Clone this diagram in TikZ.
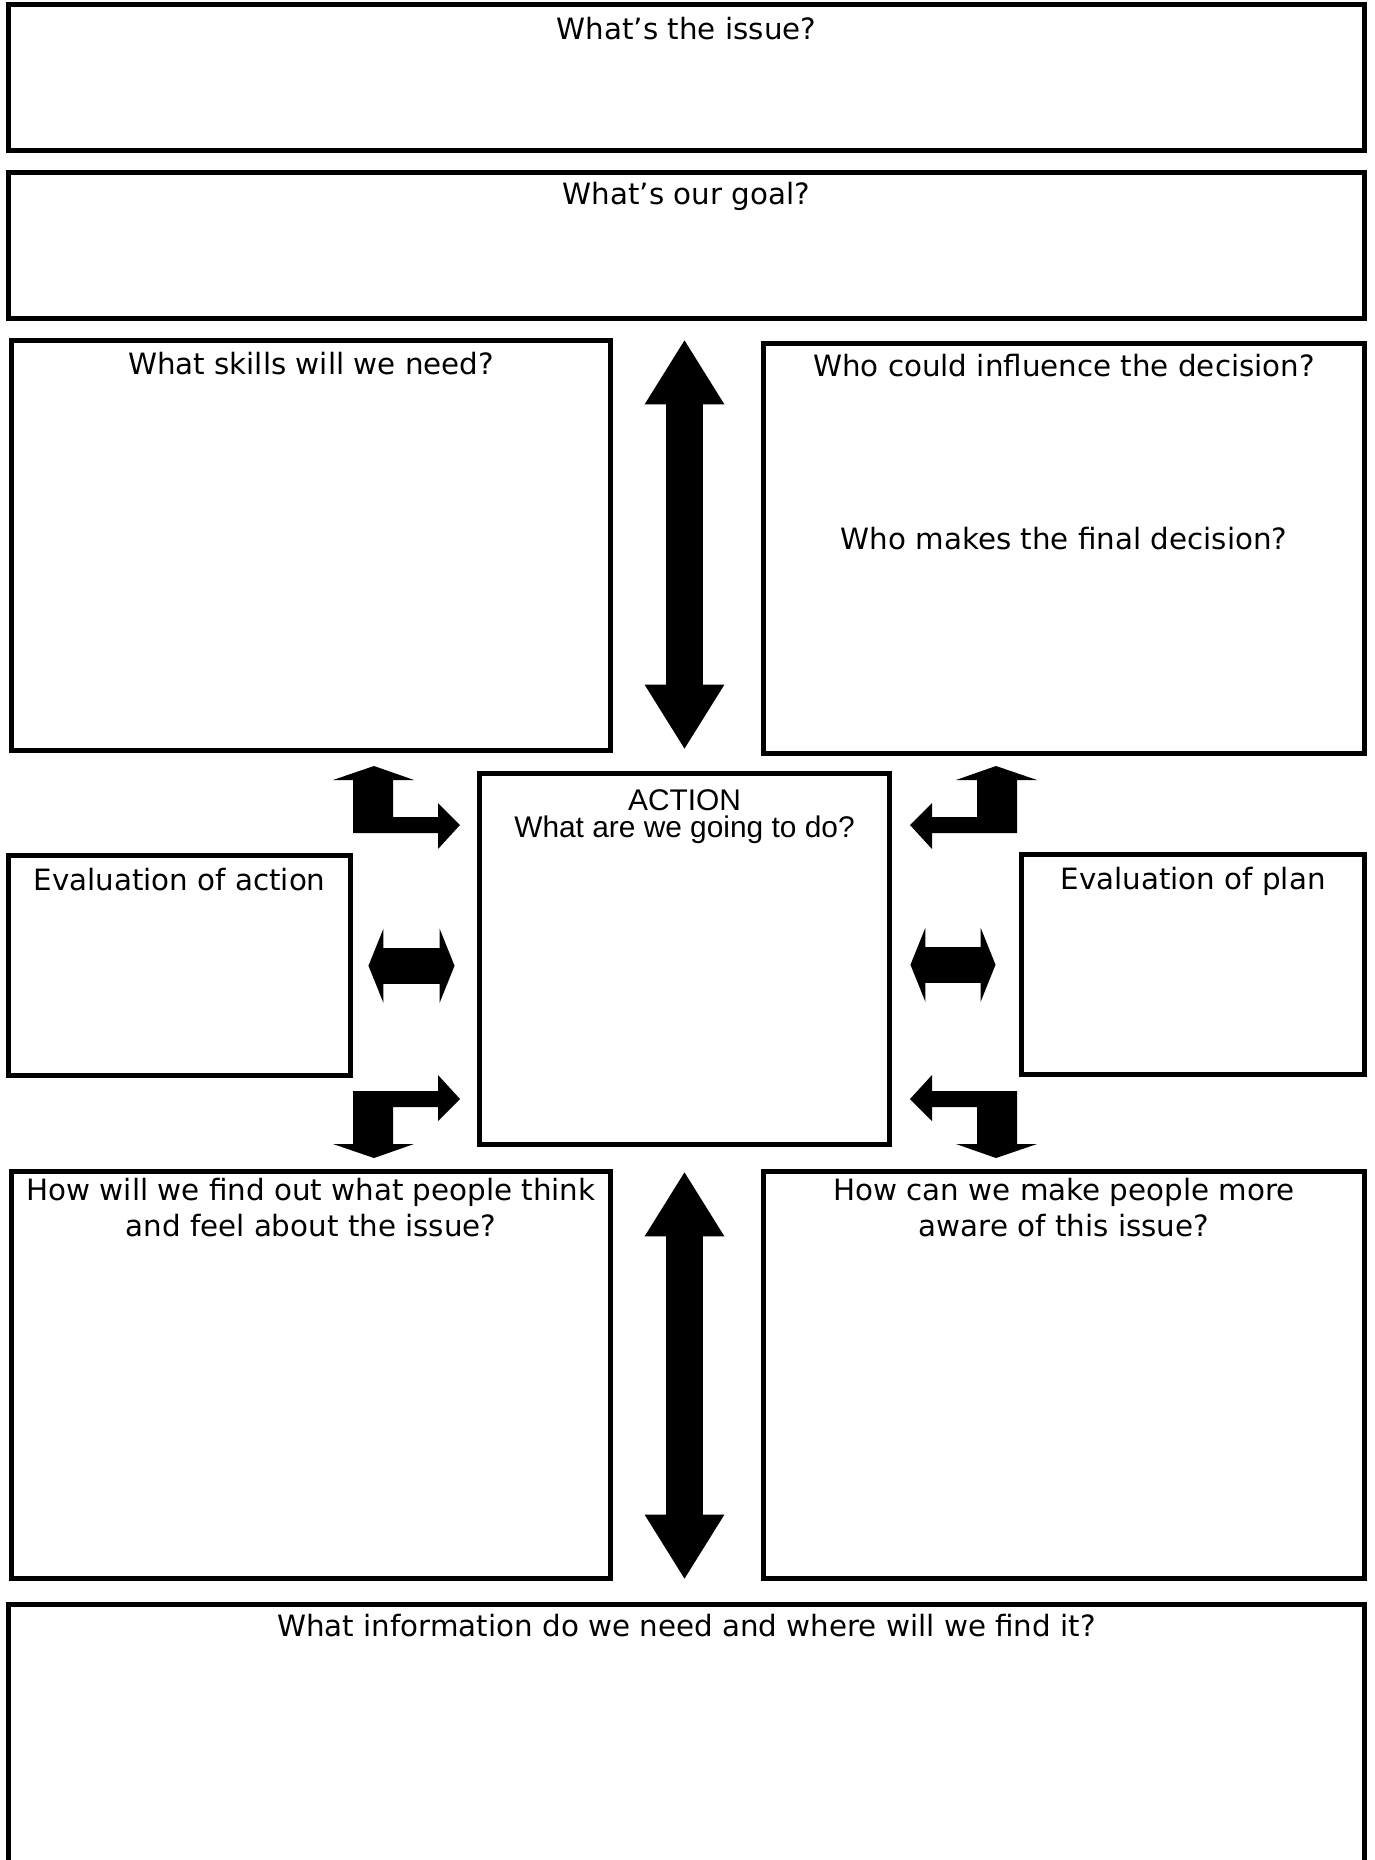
\documentclass[tikz,border=0pt]{standalone}
\usepackage{fontspec}
\setmainfont{DejaVu Sans}
\newfontfamily\actionfont{Liberation Sans}
\usetikzlibrary{arrows.meta, positioning}

\begin{document}
\begin{tikzpicture}[
    x=0.02cm, y=-0.02cm,
    % plain worksheet box
    sheetbox/.style={
        rectangle, draw=black, line width=0.1cm,
        fill=white, inner sep=0pt
    },
    % question printed at the top of a box
    qtext/.style={
        font=\fontsize{16.7}{20.4}\selectfont,
        align=center, inner sep=0pt
    },
    % fat double arrows between boxes
    vlink/.style={
        line width=0.74cm,
        {Triangle[width=1.5cm, length=1.3cm]}-{Triangle[width=1.5cm, length=1.3cm]}
    },
    hlink/.style={
        line width=0.72cm,
        {Triangle[width=1.48cm, length=0.3cm]}-{Triangle[width=1.48cm, length=0.3cm]}
    },
    bentarrow/.style={fill=black}
]
\useasboundingbox (0,0) rectangle (1374,1860);
\clip (0,0) rectangle (1374,1860);
% ── full width boxes at the top ─────────────────────────────
\node[sheetbox, minimum width=27.12cm, minimum height=2.92cm]
    (issue) at (686.5, 77.5) {};
\node[sheetbox, minimum width=27.12cm, minimum height=2.92cm]
    (goal) at (686.5, 245.5) {};
% ── upper pair ──────────────────────────────────────────────
\node[sheetbox, minimum width=11.98cm, minimum height=8.2cm]
    (skills) at (311, 545.5) {};
\node[sheetbox, minimum width=12.02cm, minimum height=8.2cm]
    (influence) at (1064, 548.5) {};
% ── middle row ──────────────────────────────────────────────
\node[sheetbox, minimum width=8.2cm, minimum height=7.42cm]
    (action) at (684.5, 959) {};
\node[sheetbox, minimum width=6.84cm, minimum height=4.41cm]
    (evalact) at (179.5, 965.75) {};
\node[sheetbox, minimum width=6.86cm, minimum height=4.41cm]
    (evalplan) at (1193, 964.75) {};
% ── lower pair ──────────────────────────────────────────────
\node[sheetbox, minimum width=11.98cm, minimum height=8.16cm]
    (findout) at (311, 1375) {};
\node[sheetbox, minimum width=12.02cm, minimum height=8.16cm]
    (aware) at (1064, 1375) {};
% bottom box runs off the page
\node[sheetbox, minimum width=27.12cm, minimum height=5.91cm]
    (info) at (686.5, 1752.25) {};
% ── questions ───────────────────────────────────────────────
\node[qtext, below=0.30cm of issue.north]     (issueq)  {What’s the issue?};
\node[qtext, below=0.23cm of goal.north]      (goalq)   {What’s our goal?};
\node[qtext, below=0.27cm of skills.north]    (skillsq) {What skills will we need?};
\node[qtext, below=0.25cm of influence.north] (inflq)   {Who could influence the decision?};
\node[qtext, below=3.72cm of influence.north] (finalq)  {Who makes the final decision?};
\node[qtext, below=0.29cm of evalact.north]   (evalactq)  {Evaluation of action};
\node[qtext, below=0.29cm of evalplan.north]  (evalplanq) {Evaluation of plan};
\node[qtext, below=0.18cm of findout.north]   (findoutq)
    {How will we find out what people think\\and feel about the issue?};
\node[qtext, below=0.18cm of aware.north]     (awareq)
    {How can we make people more\\aware of this issue?};
\node[qtext, below=0.24cm of info.north]      (infoq)
    {What information do we need and where will we find it?};
\node[font=\actionfont\fontsize{17}{15.5}\selectfont, align=center,
      inner sep=0pt, below=0.36cm of action.north] (actionq)
    {ACTION\\What are we going to do?};
% ── straight double arrows ──────────────────────────────────
\draw[vlink, shorten <=0.37cm, shorten >=0.43cm]
    (action.north |- goal.south) -- (action.north);
\draw[vlink, shorten <=0.49cm, shorten >=0.45cm]
    (action.south) -- (action.south |- info.north);
\draw[hlink, shorten <=0.31cm, shorten >=0.45cm]
    (evalact.east) -- (evalact.east -| action.west);
\draw[hlink, shorten <=0.37cm, shorten >=0.47cm]
    (action.east |- evalplan.west) -- (evalplan.west);
% ── bent arrows at the corners of the action box ───────────
\coordinate (hub) at (685, 962);
\foreach \sx/\sy in {1/1, -1/1, 1/-1, -1/-1}
  \fill[bentarrow, shift={(hub)}, xscale=\sx, yscale=\sy]
    (-311,-196) -- (-271,-182) -- (-292,-182) -- (-292,-145)
    -- (-247,-145) -- (-247,-159) -- (-225,-137) -- (-247,-113)
    -- (-247,-129) -- (-332,-129) -- (-332,-182) -- (-352,-182) -- cycle;
\end{tikzpicture}
\end{document}
